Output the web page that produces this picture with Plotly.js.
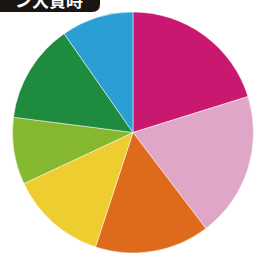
<!DOCTYPE html>
<html><head><meta charset="utf-8">
<script src="https://cdn.plot.ly/plotly-3.0.1.min.js"></script>
<style>html,body{margin:0;padding:0;background:#fff;overflow:hidden}#c{width:254px;height:253px}</style>
</head><body><div id="c"></div>
<script>
const labels = ["A","B","C","D","E","F","G"];
const values = [20.2, 19.5, 15.4, 13.0, 9.0, 13.3, 9.7];
const colors = ["#C8186F","#DFA6C7","#DE6B1B","#EDCD2F","#85B72F","#1F8B3F","#2B9FD3"];
const titleText = "ン大賞時";

const W = 254, H = 253;
const px = x => x / W, py = y => 1 - y / H;

const data = [{
  type: "pie",
  labels: labels,
  values: values,
  sort: false,
  direction: "clockwise",
  rotation: 0,
  marker: {colors: colors, line: {color: "#ffffff", width: 0.5}},
  textinfo: "none",
  hoverinfo: "none",
  showlegend: false,
  domain: {x: [px(12), 1], y: [0, py(12)]}
}];

const layout = {
  width: W, height: H,
  margin: {l: 0, r: 0, t: 0, b: 0},
  paper_bgcolor: "#ffffff",
  showlegend: false,
  shapes: [{
    type: "path", xref: "paper", yref: "paper",
    path: `M ${px(-10)},${py(-20)} L ${px(100)},${py(-20)} L ${px(100)},${py(4)} Q ${px(100)},${py(12)} ${px(92)},${py(12)} L ${px(-10)},${py(12)} Z`,
    fillcolor: "#1a1412", line: {width: 0}
  }],
  annotations: [{
    text: "<b>" + titleText + "</b>",
    xref: "paper", yref: "paper",
    x: px(13), y: py(-1),
    xanchor: "left", yanchor: "middle",
    showarrow: false,
    font: {family: "Noto Sans CJK JP", size: 17, color: "#ffffff"}
  }]
};

Plotly.newPlot("c", data, layout, {staticPlot: true, displayModeBar: false});
</script></body></html>
